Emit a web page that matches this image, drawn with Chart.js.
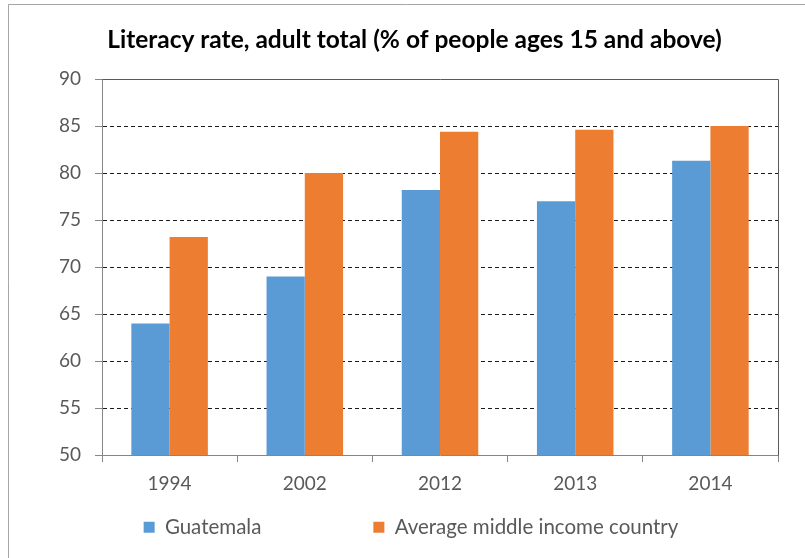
<!DOCTYPE html>
<html>
<head>
<meta charset="utf-8">
<script src="https://cdn.jsdelivr.net/npm/chart.js@4/dist/chart.umd.min.js"></script>
<style>
  html, body { margin: 0; padding: 0; background: #ffffff; }
  #wrap { position: relative; width: 805px; height: 558px; }
</style>
</head>
<body>
<div id="wrap"><canvas id="c" width="805" height="558"></canvas></div>
<script>
const categories = ['1994', '2002', '2012', '2013', '2014'];
const seriesNames = ['Guatemala', 'Average middle income country'];
const guatemala = [64.0, 69.0, 78.2, 77.0, 81.3];
const middleIncome = [73.2, 80.0, 84.4, 84.6, 85.0];
const yTicks = [50, 55, 60, 65, 70, 75, 80, 85, 90];
const titleText = 'Literacy rate, adult total (% of people ages 15 and above)';

const FONT = 'Lato, "Open Sans", "DejaVu Sans", sans-serif';

const framePlugin = {
  id: 'frame',
  beforeDraw(chart) {
    const lg = chart.legend;
    if (lg) {
      const pad = lg.options.labels.padding;
      lg.left = 17;
      lg.right = 805;
      lg.top = 517 - pad;
    }
    const t = chart.titleBlock;
    if (t) {
      t.left = 24;
      t.right = 805;
    }
  },
  afterDraw(chart) {
    const ctx = chart.ctx;
    const a = chart.chartArea;
    ctx.save();
    ctx.strokeStyle = '#a6a6a6';
    ctx.lineWidth = 1;
    ctx.beginPath();
    ctx.moveTo(8.5, 558);
    ctx.lineTo(8.5, 4.5);
    ctx.lineTo(805, 4.5);
    ctx.stroke();
    ctx.strokeStyle = '#595959';
    ctx.beginPath();
    ctx.moveTo(Math.round(a.left) + 0.5, Math.round(a.top) + 0.5);
    ctx.lineTo(Math.round(a.right) + 0.5, Math.round(a.top) + 0.5);
    ctx.lineTo(Math.round(a.right) + 0.5, Math.round(a.bottom) + 0.5);
    ctx.stroke();
    ctx.restore();
  }
};

new Chart(document.getElementById('c'), {
  type: 'bar',
  data: {
    labels: categories,
    datasets: [
      { label: seriesNames[0], data: guatemala, backgroundColor: '#5B9BD5', borderWidth: 0 },
      { label: seriesNames[1], data: middleIncome, backgroundColor: '#ED7D31', borderWidth: 0 }
    ]
  },
  options: {
    responsive: false,
    animation: false,
    devicePixelRatio: 1,
    categoryPercentage: 0.566,
    barPercentage: 1.0,
    layout: { padding: { left: 0, right: 27, top: 0, bottom: 0 } },
    plugins: {
      title: {
        display: true,
        text: titleText,
        color: '#000000',
        font: { family: FONT, size: 24.5, weight: 'bold' },
        lineHeight: 1.2,
        padding: { top: 25, bottom: 24.6 }
      },
      legend: {
        display: true,
        position: 'bottom',
        maxHeight: 50,
        labels: {
          boxWidth: 11,
          boxHeight: 11,
          padding: 112,
          color: '#595959',
          font: { family: FONT, size: 20.5 }
        }
      },
      tooltip: { enabled: false }
    },
    scales: {
      x: {
        afterFit(scale) { scale.height = 53; },
        grid: {
          display: true,
          drawOnChartArea: false,
          drawTicks: true,
          tickLength: 7,
          tickColor: '#868686',
          offset: true
        },
        border: { display: true, color: '#868686', width: 1 },
        ticks: {
          color: '#595959',
          font: { family: FONT, size: 19 },
          padding: 10,
          maxRotation: 0
        }
      },
      y: {
        min: 50,
        max: 90,
        afterFit(scale) { scale.width = 102; },
        afterBuildTicks(scale) { scale.ticks = yTicks.map(v => ({ value: v })); },
        grid: {
          color: (c) => (c.tick && (c.tick.value === 50 || c.tick.value === 90)) ? 'rgba(0,0,0,0)' : '#1a1a1a',
          lineWidth: 1,
          drawTicks: true,
          tickLength: 7,
          tickColor: '#868686',
          tickBorderDash: []
        },
        border: { display: true, color: '#868686', width: 1, dash: [4, 3] },
        ticks: {
          color: '#595959',
          font: { family: FONT, size: 19 },
          padding: 14
        }
      }
    }
  },
  plugins: [framePlugin]
});
</script>
</body>
</html>
